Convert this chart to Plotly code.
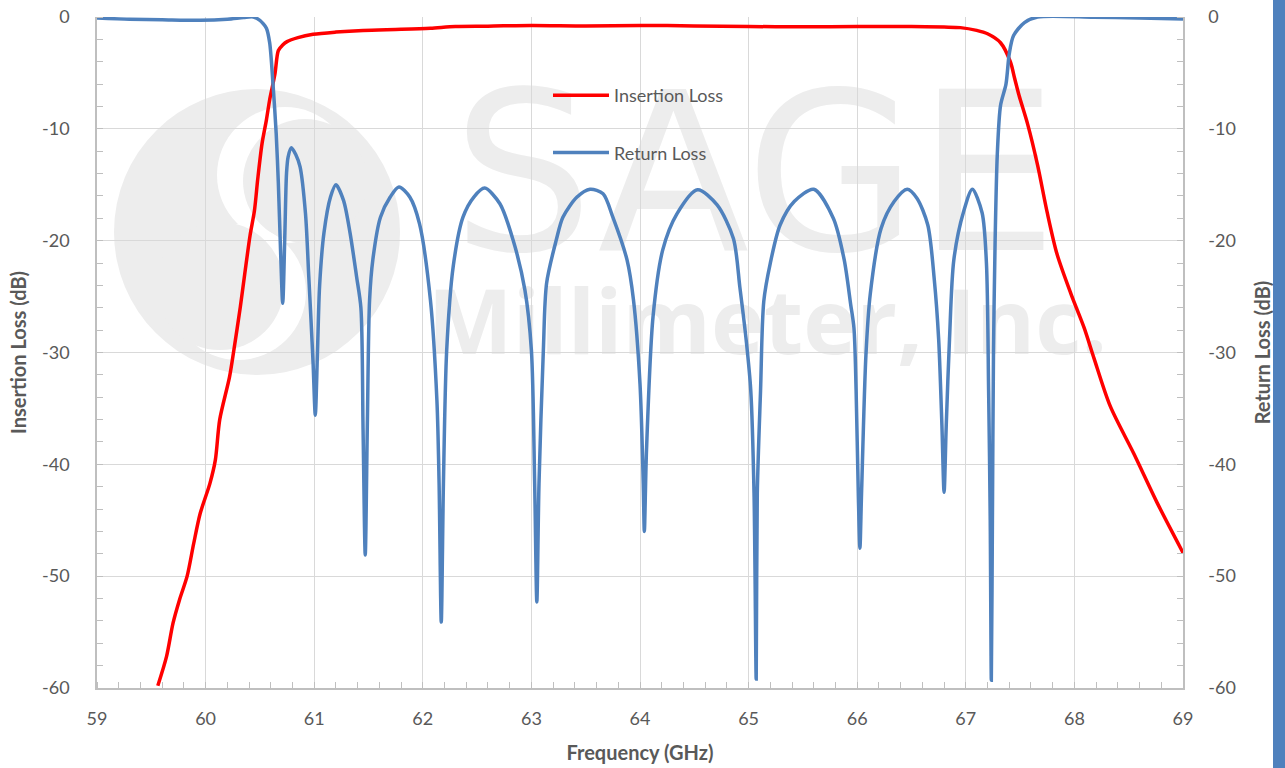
import plotly.graph_objects as go

# ---- data ----
il_freq = [59.56, 59.64, 59.70, 59.76, 59.83, 59.89, 59.95, 60.04, 60.09, 60.13,
           60.22, 60.26, 60.32, 60.36, 60.41, 60.45, 60.48, 60.52, 60.56, 60.59,
           60.62, 60.64, 60.67, 60.71, 60.75, 60.85, 60.99, 61.2, 61.45, 61.8,
           62.07, 62.3, 62.6, 63.0, 63.5, 64.0, 64.5, 65.0, 65.5, 66.0,
           66.5, 66.8, 66.95, 67.1, 67.2, 67.32, 67.41, 67.45, 67.49, 67.57,
           67.66, 67.75, 67.84, 67.97, 68.09, 68.18, 68.33, 68.55, 68.76, 69.0]
il_db = [-59.8, -57.2, -54.2, -52.1, -50.0, -47.1, -44.4, -41.7, -39.6, -36.0,
         -32.2, -29.8, -25.9, -23.0, -19.5, -17.3, -14.5, -11.3, -9.2, -7.4,
         -6.0, -5.0, -3.0, -2.5, -2.2, -1.85, -1.55, -1.35, -1.2, -1.1,
         -1.0, -0.85, -0.82, -0.75, -0.8, -0.75, -0.8, -0.85, -0.88, -0.85,
         -0.85, -0.9, -0.95, -1.2, -1.5, -2.3, -4.0, -5.5, -7.0, -9.6,
         -13.2, -17.5, -21.2, -24.8, -27.8, -30.5, -34.8, -39.1, -43.4, -47.9]

rl_freq = [59.0, 59.3, 59.6, 59.95, 60.2, 60.35, 60.44, 60.5, 60.53, 60.56,
           60.59, 60.62, 60.65, 60.67, 60.69, 60.71, 60.73, 60.745, 60.76, 60.79,
           60.83, 60.87, 60.92, 60.95, 60.97, 60.99, 61.01, 61.03, 61.05, 61.09,
           61.15, 61.2, 61.27, 61.33, 61.39, 61.43, 61.45, 61.47, 61.49, 61.51,
           61.54, 61.61, 61.7, 61.78, 61.88, 61.97, 62.07, 62.13, 62.15, 62.17,
           62.19, 62.22, 62.28, 62.37, 62.47, 62.57, 62.71, 62.83, 62.94, 63.0,
           63.03, 63.05, 63.07, 63.11, 63.14, 63.23, 63.29, 63.42, 63.54, 63.66,
           63.75, 63.88, 63.94, 64.0, 64.03, 64.04, 64.06, 64.12, 64.21, 64.34,
           64.53, 64.71, 64.86, 64.92, 64.98, 65.02, 65.05, 65.07, 65.08, 65.11,
           65.14, 65.2, 65.29, 65.42, 65.6, 65.78, 65.88, 65.94, 65.97, 65.99,
           66.01, 66.025, 66.04, 66.08, 66.12, 66.22, 66.34, 66.46, 66.55, 66.65,
           66.71, 66.75, 66.78, 66.8, 66.82, 66.85, 66.89, 66.98, 67.06, 67.15,
           67.19, 67.21, 67.225, 67.235, 67.245, 67.255, 67.27, 67.29, 67.32, 67.37,
           67.4, 67.44, 67.54, 67.66, 68.18, 68.6, 69.0]
rl_db = [-0.1, -0.2, -0.25, -0.3, -0.2, -0.05, 0.0, -0.3, -0.6, -1.0,
         -2.3, -5.9, -10.4, -14.9, -20.8, -25.6, -19.3, -14.0, -12.5, -11.7,
         -12.3, -13.4, -17.6, -23.2, -27.0, -31.0, -35.6, -30.0, -24.0, -19.3,
         -16.1, -15.0, -16.4, -19.3, -23.2, -26.0, -36.9, -48.1, -36.0, -25.3,
         -21.7, -17.9, -16.1, -15.2, -16.1, -18.5, -25.3, -34.3, -41.7, -54.1,
         -41.7, -29.8, -22.3, -17.9, -16.1, -15.3, -16.7, -19.9, -24.4, -29.8,
         -41.7, -52.3, -41.7, -29.8, -23.8, -19.9, -17.9, -16.1, -15.4, -15.8,
         -17.9, -21.7, -25.3, -32.8, -41.7, -46.0, -38.7, -26.8, -20.8, -17.6,
         -15.45, -16.8, -19.8, -24.2, -29.1, -33.4, -42.6, -59.2, -42.6, -33.4,
         -25.4, -22.0, -18.6, -16.5, -15.4, -18.0, -21.7, -25.7, -27.8, -33.4,
         -42.6, -47.5, -42.6, -30.3, -24.8, -18.9, -16.5, -15.4, -16.2, -18.6,
         -23.5, -28.8, -36.5, -42.5, -36.5, -28.8, -21.7, -17.4, -15.4, -17.5,
         -22.0, -33.4, -45.0, -59.3, -45.0, -30.0, -20.0, -12.3, -7.9, -6.0,
         -3.3, -1.66, -0.5, 0.0, -0.02, -0.1, -0.17]

x_ticks = [59, 60, 61, 62, 63, 64, 65, 66, 67, 68, 69]
y_ticks = [0, -10, -20, -30, -40, -50, -60]

# ---- figure (page body margin removed in post_script, figure at 0,0) ----
W, H = 1285, 768
L, R, T, B = 97, 102, 17, 80
pw, ph = W - L - R, H - T - B

def px(xp):  # page pixel -> paper x
    return (xp - L) / pw

def py(yp):  # page pixel -> paper y
    return (H - B - yp) / ph

txt = "#595959"
grid = "#D9D9D9"
axc = "#BFBFBF"
wm = "#EDEDED"
font = "Lato, 'Open Sans', sans-serif"

fig = go.Figure()
fig.add_trace(go.Scatter(x=il_freq, y=il_db, mode="lines", name="Insertion Loss",
                         line=dict(color="#FF0000", width=3.5, shape="spline", smoothing=0.8),
                         legendgroup="il"))
fig.add_trace(go.Scatter(x=rl_freq, y=rl_db, mode="lines", name="Return Loss",
                         line=dict(color="#4F81BD", width=3.5, shape="spline", smoothing=0.8),
                         legendgroup="rl", yaxis="y2"))

shapes = []
def circ(cx, cy, r, col):
    return dict(type="circle", xref="paper", yref="paper", layer="below",
                x0=px(cx - r), x1=px(cx + r), y0=py(cy + r), y1=py(cy - r),
                fillcolor=col, line=dict(width=0))
# watermark logo
shapes.append(circ(257, 232, 143, wm))
shapes.append(circ(285, 175, 68, "white"))
shapes.append(circ(305, 181, 62, wm))
shapes.append(circ(238, 292, 68, "white"))
shapes.append(circ(220, 286, 64, wm))
# watermark text
shapes.append(dict(type="rect", xref="paper", yref="paper", layer="below",
                   x0=px(430), x1=px(1080), y0=py(242), y1=py(72),
                   line=dict(width=0), fillcolor="rgba(0,0,0,0)",
                   label=dict(text="SAGE", font=dict(family="'DejaVu Sans ExtraLight', 'DejaVu Sans', sans-serif",
                                                      size=222, color=wm),
                              textposition="middle center")))
shapes.append(dict(type="rect", xref="paper", yref="paper", layer="below",
                   x0=px(440), x1=px(1095), y0=py(380), y1=py(270),
                   line=dict(width=0), fillcolor="rgba(0,0,0,0)",
                   label=dict(text="Millimeter, Inc.", font=dict(family="'Open Sans', sans-serif",
                                                                  size=90, color=wm, weight=700),
                              textposition="middle center")))
# blue side bar
shapes.append(dict(type="rect", xref="paper", yref="paper", layer="above",
                   x0=px(1273), x1=px(1300), y0=py(800), y1=py(-20),
                   fillcolor="#4F81BD", line=dict(width=0)))

fig.update_layout(
    width=W, height=H,
    margin=dict(l=L, r=R, t=T, b=B, autoexpand=False),
    paper_bgcolor="white", plot_bgcolor="white",
    font=dict(family=font, color=txt, size=18),
    showlegend=True,
    hovermode=False,
    legend=dict(x=px(548), y=py(77), xanchor="left", yanchor="top",
                bgcolor="rgba(0,0,0,0)", font=dict(size=18, color=txt),
                tracegroupgap=31, itemwidth=56),
    shapes=shapes,
    xaxis=dict(range=[59, 69], tickvals=x_ticks, ticktext=[str(v) for v in x_ticks],
               showgrid=True, gridcolor=grid, gridwidth=1.3,
               showline=True, linecolor=axc, linewidth=1.5, mirror=False,
               ticks="", ticklabelstandoff=14, tickfont=dict(size=18, color=txt),
               ticklabeloverflow="allow",
               minor=dict(dtick=0.2, tick0=59, ticks="inside", ticklen=6, tickcolor=axc, tickwidth=1.3, showgrid=False),
               zeroline=False,
               title=dict(text="<b>Frequency (GHz)</b>", font=dict(size=20, color=txt), standoff=18)),
    yaxis=dict(range=[-60, 0], tickvals=y_ticks, ticktext=[str(v) for v in y_ticks],
               showgrid=True, gridcolor=grid, gridwidth=1.3,
               showline=True, linecolor=axc, linewidth=1.5,
               ticks="", ticklabelstandoff=22, tickfont=dict(size=18, color=txt),
               ticklabeloverflow="allow",
               minor=dict(dtick=2, tick0=0, ticks="inside", ticklen=6, tickcolor=axc, tickwidth=1.3, showgrid=False),
               zeroline=False,
               title=dict(text="<b>Insertion Loss (dB)</b>", font=dict(size=20, color=txt), standoff=10)),
    yaxis2=dict(range=[-60, 0], tickvals=y_ticks, ticktext=[str(v) for v in y_ticks],
                overlaying="y", side="right", showgrid=False,
                showline=True, linecolor=axc, linewidth=1.5,
                ticks="", ticklabelstandoff=20, tickfont=dict(size=18, color=txt),
                ticklabeloverflow="allow",
                minor=dict(dtick=2, tick0=0, ticks="inside", ticklen=6, tickcolor=axc, tickwidth=1.3, showgrid=False),
                zeroline=False,
                title=dict(text="<b>Return Loss (dB)</b>", font=dict(size=20, color=txt), standoff=21)),
)

fig.write_html("out.html",
               config={"displayModeBar": False},
               post_script="document.body.style.margin='0';document.body.style.overflow='hidden';")
